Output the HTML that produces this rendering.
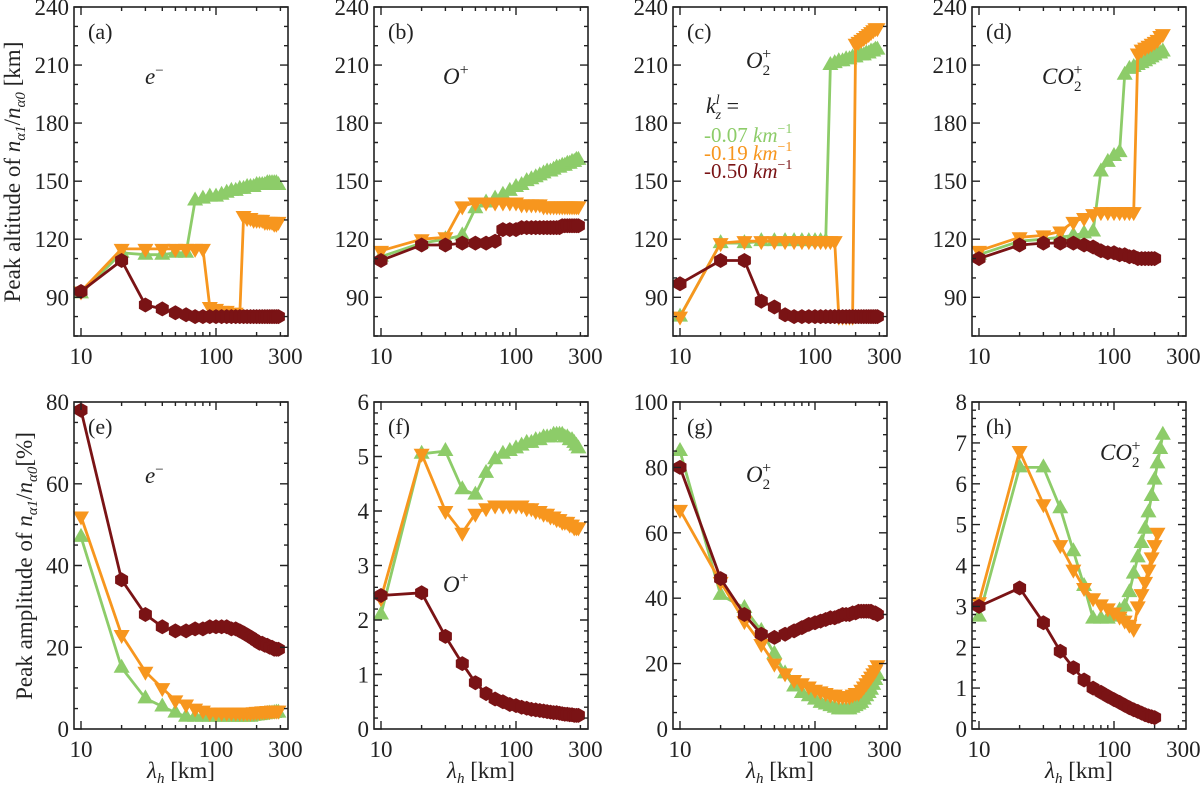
<!DOCTYPE html>
<html><head><meta charset="utf-8"><style>
body{margin:0;background:#fff}
svg{display:block}
svg text{font-family:"Liberation Serif","DejaVu Serif",serif}
</style></head><body>
<svg id="fig" width="1200" height="787" viewBox="0 0 1200 787" xmlns="http://www.w3.org/2000/svg" font-family="Liberation Serif, DejaVu Serif, serif"></svg>
<script>
const xVals=[10,20,30,40,50,60,70,80,90,100,110,120,130,140,150,160,170,180,190,200,210,220,230,240,250,260,270,280,290];
// panel a: altitude e-
const aG=[92,113,112,112,113,113,140,141,142,142,143,144,145,145,146,146,147,147,147,148,148,148,148,149,149,149,149,149,148];
const aO=[93,115,115,115,115,115,115,115,85,84,83,83,82,82,81,132,131,131,130,130,130,130,129,129,129,129,128,128,129];
const aR=[93,109,86,84,82,81,80,80,80,80,80,80,80,80,80,80,80,80,80,80,80,80,80,80,80,80,80,80,80];
// panel b: altitude O+
const bG=[111,118,120,122,136,139,141,143,145,147,148,150,151,152,153,154,155,155,156,157,157,158,158,159,159,160,160,161,161];
const bO=[114,120,121,137,139,139,139,139,139,139,138,138,138,138,138,137,137,137,137,137,137,137,137,137,137,137,137,137,137];
const bR=[109,117,117,118,118,118,119,125,125,125,126,126,126,126,126,126,126,126,126,126,126,127,127,127,127,127,127,127,127];
// panel c: altitude O2+
const cG=[80,118,118,119,119,119,119,119,119,119,119,119,210,211,212,212,213,213,214,214,215,215,215,216,216,217,217,218,218];
const cO=[80,118,119,119,119,119,119,119,119,119,119,119,119,119,80,80,80,80,80,221,222,223,224,225,226,227,228,229,229];
const cR=[97,109,109,88,85,81,80,80,80,80,80,80,80,80,80,80,80,80,80,80,80,80,80,80,80,80,80,80,80];
// panel d: altitude CO2+
const dG=[112,119,120,121,122,123,124,155,160,163,165,205,208,209,210,211,212,213,214,215,216,216,217];
const dO=[114,121,122,124,129,131,133,134,134,134,134,134,134,134,216,218,219,220,221,222,223,225,226];
const dR=[110,117,118,118,118,117,116,114,113,113,112,112,111,111,110,110,110,110,110,110];
// panel e: amplitude e-
const eG=[47,15,7.5,5.5,4,3,3,3,3,3,3,3,3,3,3,3,3,3,3.2,3.3,3.4,3.5,3.6,3.7,3.8,3.8,3.9,4,4];
const eO=[52,23,14,10,7,6,5,4.5,4,4,4,4,4,4,4,4,4,4,4.1,4.2,4.2,4.3,4.3,4.4,4.4,4.5,4.5,4.5,4.5];
const eR=[78,36.5,28,25,24,24,24.5,24.5,25,25,25,25,24.5,24.5,24,23.5,23,22.5,22,21.5,21,21,20.5,20.5,20,20,19.5,19.5,19.5];
// panel f: amplitude O+
const fG=[2.1,5.05,5.1,4.4,4.3,4.7,4.95,5.05,5.1,5.15,5.2,5.25,5.25,5.3,5.3,5.35,5.35,5.35,5.4,5.4,5.4,5.4,5.35,5.35,5.3,5.3,5.25,5.2,5.15];
const fO=[2.4,5.05,4.0,3.6,3.95,4.05,4.1,4.1,4.1,4.1,4.1,4.05,4.05,4.0,4.0,3.95,3.95,3.9,3.9,3.85,3.85,3.8,3.8,3.8,3.75,3.75,3.7,3.7,3.7];
const fR=[2.45,2.5,1.7,1.2,0.85,0.65,0.55,0.5,0.45,0.43,0.4,0.38,0.36,0.35,0.34,0.33,0.32,0.31,0.3,0.3,0.29,0.28,0.27,0.27,0.26,0.26,0.25,0.25,0.25];
// panel g: amplitude O2+
const gG=[85,41,37,30,23,17,13,11,10,9,8,7.5,7,6.5,6,6,6,6,6.5,7,7.5,8,9,10,11,12,13.5,15,16.5];
const gO=[67,45,33,26,20,17,15,14,13,12,11.5,11,10.5,10.5,10,10,10,10,10.5,11,11,12,13,14,15,16,17,18,19.5];
const gR=[80,46,35,29,28,29,30,31,32,32.5,33,33.5,34,34,34.5,35,35,35,35.5,35.5,36,36,36,36,36,36,35.5,35.5,35];
// panel h: amplitude CO2+
const hG=[2.75,6.4,6.4,5.4,4.35,3.5,2.7,2.7,2.7,2.75,2.9,3.0,3.35,3.8,4.2,4.55,4.9,5.3,5.7,6.1,6.5,6.85,7.2];
const hO=[3.1,6.8,5.5,4.5,3.9,3.45,3.2,3.05,2.95,2.85,2.75,2.65,2.55,2.45,3.0,3.3,3.6,3.9,4.2,4.5,4.8];
const hR=[3.0,3.45,2.6,1.9,1.5,1.2,1.0,0.9,0.8,0.72,0.65,0.58,0.52,0.47,0.43,0.39,0.35,0.32,0.3,0.28];
const xTickLabels=["10","100","300"];

const NS="http://www.w3.org/2000/svg";
const svg=document.getElementById('fig');
const GREEN="#8dcc69",ORANGE="#f7961e",RED="#7a1315";
const FF='Liberation Serif, DejaVu Serif, serif';
function mk(tag,attrs,parent){const e=document.createElementNS(NS,tag);for(const k in attrs)e.setAttribute(k,attrs[k]);if(tag==='text')e.setAttribute('font-family',FF);(parent||svg).appendChild(e);return e;}

const W=214;
const lefts=[74,374,673,972];
const panels=[
 {id:'a',row:0,ymin:70,ymax:240,major:[90,120,150,180,210,240],minor:10,series:[aG,aO,aR]},
 {id:'b',row:0,ymin:70,ymax:240,major:[90,120,150,180,210,240],minor:10,series:[bG,bO,bR]},
 {id:'c',row:0,ymin:70,ymax:240,major:[90,120,150,180,210,240],minor:10,series:[cG,cO,cR]},
 {id:'d',row:0,ymin:70,ymax:240,major:[90,120,150,180,210,240],minor:10,series:[dG,dO,dR]},
 {id:'e',row:1,ymin:0,ymax:80,major:[0,20,40,60,80],minor:5,series:[eG,eO,eR]},
 {id:'f',row:1,ymin:0,ymax:6,major:[0,1,2,3,4,5,6],minor:0.2,series:[fG,fO,fR]},
 {id:'g',row:1,ymin:0,ymax:100,major:[0,20,40,60,80,100],minor:5,series:[gG,gO,gR]},
 {id:'h',row:1,ymin:0,ymax:8,major:[0,1,2,3,4,5,6,7,8],minor:0.2,series:[hG,hO,hR]}
];
const rows=[{top:7,bot:336},{top:402,bot:729}];
const colors=[GREEN,ORANGE,RED];
const names=['kz-0.07','kz-0.19','kz-0.50'];

function marker(kind,x,y,c,g){
 let p;
 if(kind===0){p=`${x},${y-9} ${x+8},${y+5} ${x-8},${y+5}`;}
 else if(kind===1){p=`${x},${y+9} ${x+8},${y-5} ${x-8},${y-5}`;}
 else{const r=7.5;let a=[];for(let i=0;i<6;i++){const t=Math.PI/6+i*Math.PI/3;a.push((x+r*Math.cos(t)).toFixed(1)+','+(y+r*Math.sin(t)).toFixed(1));}p=a.join(' ');}
 const m=mk('polygon',{points:p,fill:c},g);
 
 
}

panels.forEach((P,pi)=>{
 const L=lefts[pi%4],R=L+W,T=rows[P.row].top,B=rows[P.row].bot;
 const xs=v=>L+7+135*Math.log10(v/10);
 const ys=v=>B-(v-P.ymin)/(P.ymax-P.ymin)*(B-T);
 const g=mk('g',{});
 
 
 P.series.forEach((s,si)=>{
  const sg=mk('g',{},g);
  
  
  const pts=s.map((v,i)=>xs(xVals[i]).toFixed(1)+','+ys(v).toFixed(1)).join(' ');
  const pl=mk('polyline',{points:pts,fill:'none',stroke:colors[si],'stroke-width':2.8,'stroke-linejoin':'round'},sg);
  
  
  s.forEach((v,i)=>marker(si,xs(xVals[i]),ys(v),colors[si],sg));
 });
 const fr=mk('rect',{x:L,y:T,width:W,height:B-T,fill:'none',stroke:'#222','stroke-width':1.6},g);
 
 
 let path='';
 for(let v=P.ymin;v<=P.ymax+1e-9;v+=P.minor){
  const vv=Math.round(v*1000)/1000;
  const isMaj=P.major.some(m=>Math.abs(m-vv)<1e-6);
  const len=isMaj?8:4,y=ys(vv).toFixed(1);
  path+=`M${L},${y}h${len}M${R},${y}h${-len}`;
 }
 const xMinor=[20,30,40,50,60,70,80,90,200,300];
 [10,100].forEach(v=>{const x=xs(v).toFixed(1);path+=`M${x},${B}v-8M${x},${T}v8`;});
 xMinor.forEach(v=>{const x=xs(v).toFixed(1);path+=`M${x},${B}v-4M${x},${T}v4`;});
 const tk=mk('path',{d:path,stroke:'#222','stroke-width':1.4,fill:'none'},g);
 
 
 P.major.forEach(v=>{
  const t=mk('text',{x:L-5,y:ys(v)+8,'text-anchor':'end','font-size':23,fill:'#222'},g);
  t.textContent=String(v);
  
  
 });
 [10,100,300].forEach((v,i)=>{
  const t=mk('text',{x:xs(v)+(v===300?5:0),y:B+28,'text-anchor':'middle','font-size':23,fill:'#222'},g);
  t.textContent=xTickLabels[i];
  
  
 });
 const pl=mk('text',{x:L+14,y:T+32,'font-size':22,fill:'#222'},g);
 pl.textContent='('+P.id+')';
 
 
 if(P.row===1){
  const xl=mk('text',{x:L+W/2,y:778,'text-anchor':'middle','font-size':23,fill:'#222'},g);
  xl.innerHTML='<tspan font-style="italic">λ</tspan><tspan font-style="italic" font-size="15" dy="5">h</tspan><tspan dy="-5"> [km]</tspan>';
  
  
 }
});

function species(x,y,html,name){
 const t=mk('text',{x:x,y:y,'font-size':23,fill:'#222','font-style':'italic'});
 t.innerHTML=html;
 
 
}
const em='e<tspan font-size="15" dy="-9" font-style="normal">−</tspan>';
const op='O<tspan font-size="16" dy="-9" font-style="normal">+</tspan>';
const o2='O<tspan font-size="15" dy="7" font-style="normal">2</tspan><tspan font-size="16" dx="-8" dy="-16" font-style="normal">+</tspan>';
const co2='CO<tspan font-size="15" dy="7" font-style="normal">2</tspan><tspan font-size="16" dx="-8" dy="-16" font-style="normal">+</tspan>';
species(145,84,em,'species-label-e');
species(443,84,op,'species-label-o');
species(746,68,o2,'species-label-o2');
species(1042,84,co2,'species-label-co2');
species(145,483,em,'species-label-e');
species(443,592,op,'species-label-o');
species(746,482,o2,'species-label-o2');
species(1100,460,co2,'species-label-co2');

const lg=mk('g',{});


const lt=mk('text',{x:706,y:113,'font-size':22,fill:'#222'},lg);
lt.innerHTML='<tspan font-style="italic">k</tspan><tspan font-size="14" dy="-9" font-style="italic">l</tspan><tspan font-size="14" dx="-4" dy="15" font-style="italic">z</tspan><tspan dy="-6"> =</tspan>';


[['-0.07',GREEN,142],['-0.19',ORANGE,160],['-0.50',RED,178]].forEach(e=>{
 const t=mk('text',{x:704,y:e[2],'font-size':21,fill:e[1]},lg);
 t.innerHTML=e[0]+' <tspan font-style="italic">km</tspan><tspan font-size="14" dy="-9">−1</tspan>';
 
 
});

const y1=mk('text',{x:0,y:0,'font-size':23,fill:'#222','text-anchor':'middle',transform:'translate(20,172) rotate(-90)'});
y1.innerHTML='Peak altitude of <tspan font-style="italic">n</tspan><tspan font-size="15" dy="5" font-style="italic">α1</tspan><tspan dy="-5">/</tspan><tspan font-style="italic">n</tspan><tspan font-size="15" dy="5" font-style="italic">α0</tspan><tspan dy="-5"> [km]</tspan>';


const y2=mk('text',{x:0,y:0,'font-size':23,fill:'#222','text-anchor':'middle',transform:'translate(32,566) rotate(-90)'});
y2.innerHTML='Peak amplitude of <tspan font-style="italic">n</tspan><tspan font-size="15" dy="5" font-style="italic">α1</tspan><tspan dy="-5">/</tspan><tspan font-style="italic">n</tspan><tspan font-size="15" dy="5" font-style="italic">α0</tspan><tspan dy="-5">[%]</tspan>';


</script>
</body></html>
